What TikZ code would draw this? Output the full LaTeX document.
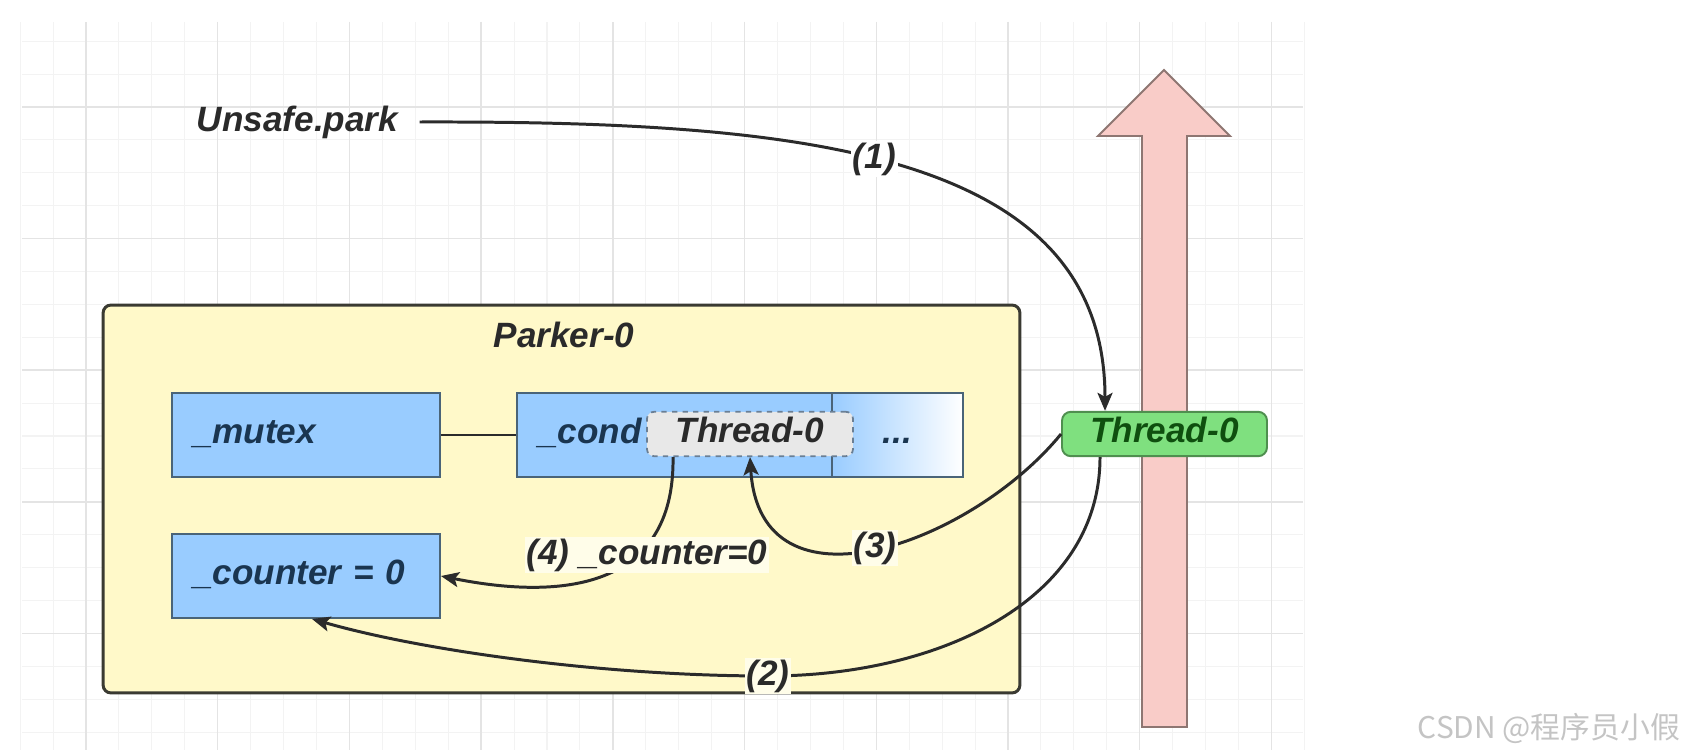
\documentclass[tikz,border=0pt]{standalone}
\usepackage{fontspec}
\setmainfont{Liberation Sans}
\newfontfamily\cjkfont{Noto Sans CJK SC}
\usetikzlibrary{arrows.meta}
\definecolor{gridminor}{HTML}{F3F3F3}
\definecolor{gridmajor}{HTML}{E4E4E4}
\definecolor{holderfill}{HTML}{FFF9C9}
\definecolor{holderline}{HTML}{3A3A32}
\definecolor{fieldblue}{HTML}{99CCFF}
\definecolor{fieldline}{HTML}{4A6478}
\definecolor{fieldtext}{HTML}{1A3550}
\definecolor{waitfill}{HTML}{E8E8E8}
\definecolor{waitline}{HTML}{6A7F95}
\definecolor{greenfill}{HTML}{7FE07F}
\definecolor{greenline}{HTML}{4F8F4F}
\definecolor{greentext}{HTML}{0F4F0F}
\definecolor{pinkfill}{HTML}{F9CCC8}
\definecolor{pinkline}{HTML}{8E7672}
\definecolor{linecolor}{HTML}{2B2B2B}
\definecolor{lbltext}{HTML}{2A2A2A}
\definecolor{marktext}{HTML}{C4C4C4}
\newcommand{\lblfont}{\fontsize{20}{24}\selectfont\bfseries\itshape}
\tikzstyle{holder} = [rectangle, rounded corners=4.5pt,
line width=1.7pt,
draw=holderline,
fill=holderfill]
\tikzstyle{field} = [rectangle,
minimum height=1.68cm,
inner xsep=0.42cm,
align=left,
text height=14.4pt, text depth=4.2pt,
font=\lblfont, text=fieldtext,
line width=1.1pt,
draw=fieldline,
fill=fieldblue]
\tikzstyle{waitbox} = [rectangle, rounded corners=4pt, dashed,
minimum width=4.12cm,
minimum height=0.88cm,
text height=14.4pt, text depth=4.2pt,
font=\lblfont, text=lbltext,
line width=1pt,
draw=waitline,
fill=waitfill]
\tikzstyle{threadbox} = [rectangle, rounded corners=5pt,
minimum width=4.1cm,
minimum height=0.88cm,
text height=14.4pt, text depth=4.2pt,
font=\lblfont, text=greentext,
line width=1.1pt,
draw=greenline,
fill=greenfill]
\tikzstyle{steplbl} = [font=\lblfont, text=lbltext, inner sep=1pt, fill=holderfill!40!white]
\tikzstyle{line} = [draw=linecolor, line width=1.7pt]
\tikzstyle{arrow} = [line, -{Stealth[length=0.36cm, width=0.3cm, inset=0.08cm]}]
\begin{document}
\begin{tikzpicture}[x=0.02cm, y=-0.02cm]
        \useasboundingbox (0,0) rectangle (1695,750);
        % background grid
        \foreach \m in {0,...,39}
            \draw [gridminor, line width=0.6pt] ({20.1+32.93*\m},22) -- ({20.1+32.93*\m},750);
        \foreach \m in {0,...,21}
            \draw [gridminor, line width=0.6pt] (22,{41.2+32.9*\m}) -- (1303,{41.2+32.9*\m});
        \foreach \m in {0,...,9}
            \draw [gridmajor, line width=0.8pt] ({86+131.7*\m},22) -- ({86+131.7*\m},750);
        \foreach \m in {0,...,4}
            \draw [gridmajor, line width=0.8pt] (22,{107+131.6*\m}) -- (1303,{107+131.6*\m});
        % big arrow behind the thread
        \draw [fill=pinkfill, draw=pinkline, line width=1.1pt, line join=miter]
            (1142,727) -- (1142,136) -- (1098,136) -- (1164,70) -- (1230,136) -- (1187,136) -- (1187,727) -- cycle;
        \node (park) [font=\lblfont, text=lbltext, inner xsep=12pt] at (297.5,122) {Unsafe.park};
        \node (parker) [holder, minimum width=18.34cm, minimum height=7.76cm] at (561.5,499) {};
        \node (title) [font=\lblfont, text=lbltext] at (564,335) {Parker-0};
        \node (mutex) [field, text width=4.52cm] at (306,435) {\_mutex};
        \node (counter) [field, text width=4.52cm] at (306,576) {\_counter = 0};
        \node (cond) [field, text width=5.46cm] at (674.5,435) {\_cond};
        \node (more) [field, left color=fieldblue, right color=white, minimum width=2.62cm] at (897.5,435) {...};
        \node (waiter) [waitbox] at (750,434) {Thread-0};
        \node (owner) [threadbox] at (1164.5,434) {Thread-0};
        \draw [line] (mutex) -- (cond);
        \draw [arrow] (park.east) .. controls (800,121) and (1105,150) .. ([xshift=-1.19cm]owner.north)
            node [steplbl, fill=white, pos=0.46] {(1)};
        \draw [arrow] ([xshift=-1.29cm]owner.south) .. controls (1100,600) and (940,676) .. (768,676)
            node [steplbl] {(2)} .. controls (600,676) and (420,650) .. ([xshift=0.12cm]counter.south);
        \draw [arrow] (owner.west) .. controls (970,545) and (760,620) .. (waiter.south)
            node [steplbl, pos=0.5] {(3)};
        \draw [arrow] ([xshift=-1.54cm]waiter.south) .. controls (675,590) and (560,600) .. (counter.east)
            node [steplbl, pos=0.35, xshift=0.2cm] {(4) \_counter=0};
        \node (mark) [anchor=base, font=\cjkfont\fontsize{17}{20}\selectfont, text=marktext] at (1549,738) {CSDN @程序员小假};
    \end{tikzpicture}
\end{document}
